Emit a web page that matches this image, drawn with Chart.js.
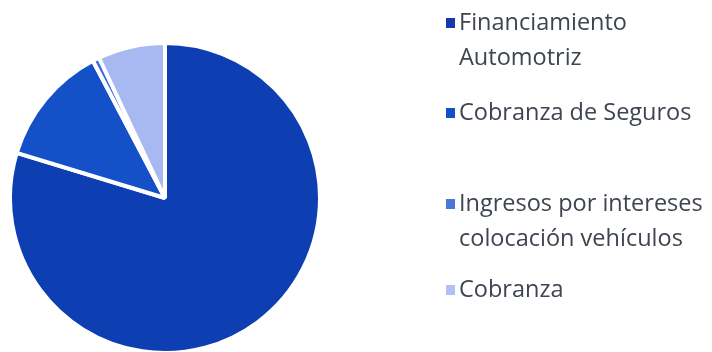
<!DOCTYPE html>
<html>
<head>
<meta charset="utf-8">
<script src="https://cdn.jsdelivr.net/npm/chart.js@4/dist/chart.umd.min.js"></script>
<style>
  html, body { margin: 0; padding: 0; background: #fff; width: 712px; height: 352px; overflow: hidden; position: relative; }
  #pieBox { position: absolute; left: 8px; top: 41px; width: 314px; height: 314px; }
  #legend { position: absolute; left: 0; top: 0; width: 712px; height: 352px; pointer-events: none;
            font-family: "Open Sans", sans-serif; font-size: 23.5px; color: #3e4550; }
  .item { position: absolute; left: 459px; line-height: 35px; white-space: nowrap; }
  .mark { position: absolute; left: -13px; width: 9px; height: 10px; }
</style>
</head>
<body>
<div id="pieBox"><canvas id="c"></canvas></div>
<div id="legend"></div>
<script>
const categories = [
  ["Financiamiento", "Automotriz"],
  ["Cobranza de Seguros"],
  ["Ingresos por intereses", "colocación vehículos"],
  ["Cobranza"]
];
const values = [79.7, 12.6, 0.7, 7.0];
const colors = ["#0d3fb3", "#1450c8", "#3c6ad6", "#a8b9f2"];
const legendMarkColors = ["#1838b0", "#1450c8", "#4a78d6", "#b0c0f4"];
const legendTops = [4, 94, 185, 271];

new Chart(document.getElementById('c'), {
  type: 'pie',
  data: {
    labels: categories.map(c => c.join(' ')),
    datasets: [{
      data: values,
      backgroundColor: colors,
      borderColor: '#ffffff',
      borderWidth: 4
    }]
  },
  options: {
    responsive: true,
    maintainAspectRatio: false,
    animation: false,
    plugins: { legend: { display: false }, tooltip: { enabled: false } },
    layout: { padding: 0 }
  }
});

const lg = document.getElementById('legend');
categories.forEach((lines, i) => {
  const d = document.createElement('div');
  d.className = 'item';
  d.style.top = legendTops[i] + 'px';
  d.innerHTML = lines.join('<br>');
  const m = document.createElement('div');
  m.className = 'mark';
  m.style.background = legendMarkColors[i];
  m.style.top = '14px';
  d.appendChild(m);
  lg.appendChild(d);
});
</script>
</body>
</html>
